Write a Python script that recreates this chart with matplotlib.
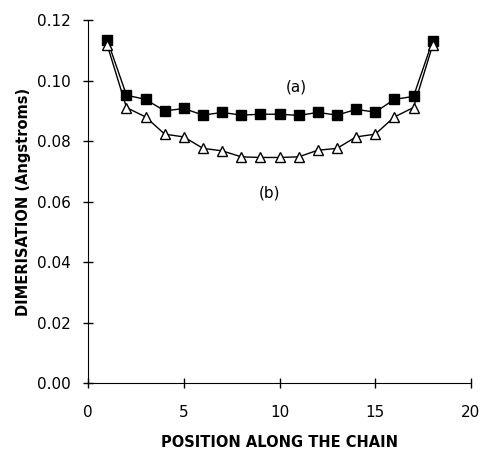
import numpy as np
import matplotlib
matplotlib.use('Agg')
import matplotlib.pyplot as plt

# Data
position = list(range(1, 19))
dim_a = [0.1134, 0.0952, 0.0938, 0.0900, 0.0908, 0.0886, 0.0895, 0.0886, 0.0889,
         0.0889, 0.0885, 0.0895, 0.0886, 0.0905, 0.0896, 0.0938, 0.0948, 0.1132]
dim_b = [0.1117, 0.0911, 0.0880, 0.0823, 0.0814, 0.0776, 0.0768, 0.0748, 0.0746,
         0.0746, 0.0748, 0.0770, 0.0776, 0.0814, 0.0823, 0.0880, 0.0911, 0.1117]

FS = 11

fig = plt.figure(figsize=(4.82, 4.49), dpi=100)
ax = fig.add_axes([0.183, 0.147, 0.794, 0.808])

ax.plot(position, dim_a, '-s', color='black', markerfacecolor='black',
        markersize=6.5, linewidth=1.0)
ax.plot(position, dim_b, '-^', color='black', markerfacecolor='white',
        markersize=7, linewidth=1.0)

ax.text(10.9, 0.0978, '(a)', fontsize=FS, ha='center', va='center')
ax.text(9.5, 0.0628, '(b)', fontsize=FS, ha='center', va='center')

ax.set_xlim(0, 20)
ax.set_ylim(0, 0.12)
ax.set_xticks([0, 5, 10, 15, 20])
ax.set_yticks(np.arange(0, 0.121, 0.02))
ax.set_yticklabels(['%.2f' % v for v in np.arange(0, 0.121, 0.02)])

ax.spines['top'].set_visible(False)
ax.spines['right'].set_visible(False)
ax.tick_params(direction='inout', length=7, width=1, labelsize=FS)
ax.tick_params(axis='x', pad=12)
ax.tick_params(axis='y', pad=9)

ax.set_xlabel('POSITION ALONG THE CHAIN', fontsize=FS - 0.5, fontweight='bold', labelpad=11)
ax.set_ylabel('DIMERISATION (Angstroms)', fontsize=FS - 0.5, fontweight='bold', labelpad=4)

fig.savefig('out.png', dpi=100)
